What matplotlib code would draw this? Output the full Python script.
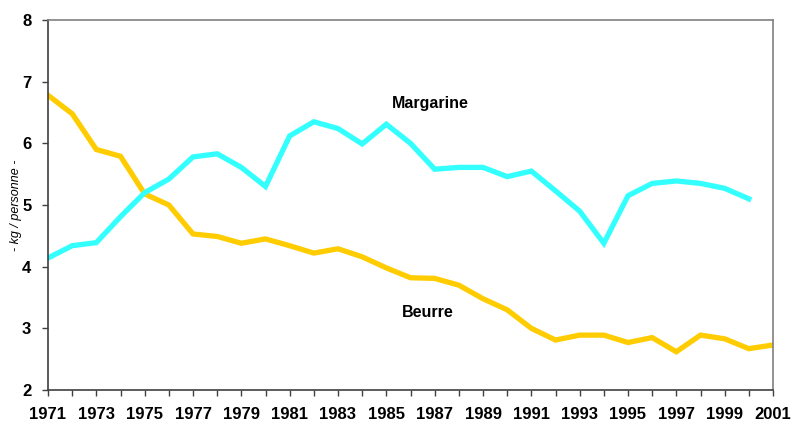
import matplotlib
matplotlib.use("Agg")
import matplotlib.pyplot as plt

# consommation par personne (kg)
years = list(range(1971, 2002))
beurre = [6.78, 6.48, 5.90, 5.79, 5.18, 5.00, 4.53, 4.49, 4.38, 4.45,
          4.34, 4.22, 4.29, 4.16, 3.98, 3.82, 3.81, 3.70, 3.48, 3.30,
          3.00, 2.81, 2.89, 2.89, 2.77, 2.85, 2.62, 2.89, 2.83, 2.67, 2.73]
margarine_years = list(range(1971, 2001))
margarine = [4.14, 4.34, 4.39, 4.81, 5.20, 5.42, 5.78, 5.83, 5.61, 5.30,
             6.12, 6.35, 6.24, 5.99, 6.31, 6.00, 5.58, 5.61, 5.61, 5.46,
             5.55, 5.23, 4.90, 4.38, 5.15, 5.35, 5.39, 5.35, 5.27, 5.10]
yticks = [2, 3, 4, 5, 6, 7, 8]
xlabels = list(range(1971, 2002, 2))

plt.rcParams['font.family'] = ['Liberation Sans', 'DejaVu Sans']

fig = plt.figure(figsize=(7.98, 4.24), dpi=100)
ax = fig.add_axes([48/798, 1 - 390/424, (773-48)/798, (390-20)/424])

ax.plot(years, beurre, color='#FFCC00', lw=3.8, solid_joinstyle='miter')
ax.plot(margarine_years, margarine, color='#33FFFF', lw=3.8, solid_joinstyle='miter')

ax.text(1986.8, 6.64, "Margarine", fontsize=11.5, fontweight='bold', ha='center', va='center')
ax.text(1986.7, 3.26, "Beurre", fontsize=11.5, fontweight='bold', ha='center', va='center')

ax.set_xlim(1971, 2001)
ax.set_ylim(2, 8)
ax.set_xticks(years)
ax.set_xticklabels([str(y) if y in xlabels else "" for y in years])
ax.set_yticks(yticks)
ax.tick_params(axis='both', direction='out', length=4, width=1, color='#404040',
               labelsize=12)
ax.tick_params(axis='x', pad=8)
ax.tick_params(axis='y', pad=8)
for lab in ax.get_xticklabels() + ax.get_yticklabels():
    lab.set_fontweight('bold')

ax.set_ylabel("- kg / personne -", fontsize=9, fontstyle='italic', labelpad=0)

for side in ['left', 'bottom']:
    ax.spines[side].set_color('#404040')
    ax.spines[side].set_linewidth(1.2)
for side in ['top', 'right']:
    ax.spines[side].set_color('#808080')
    ax.spines[side].set_linewidth(1.2)

fig.savefig("out.png", dpi=100)
